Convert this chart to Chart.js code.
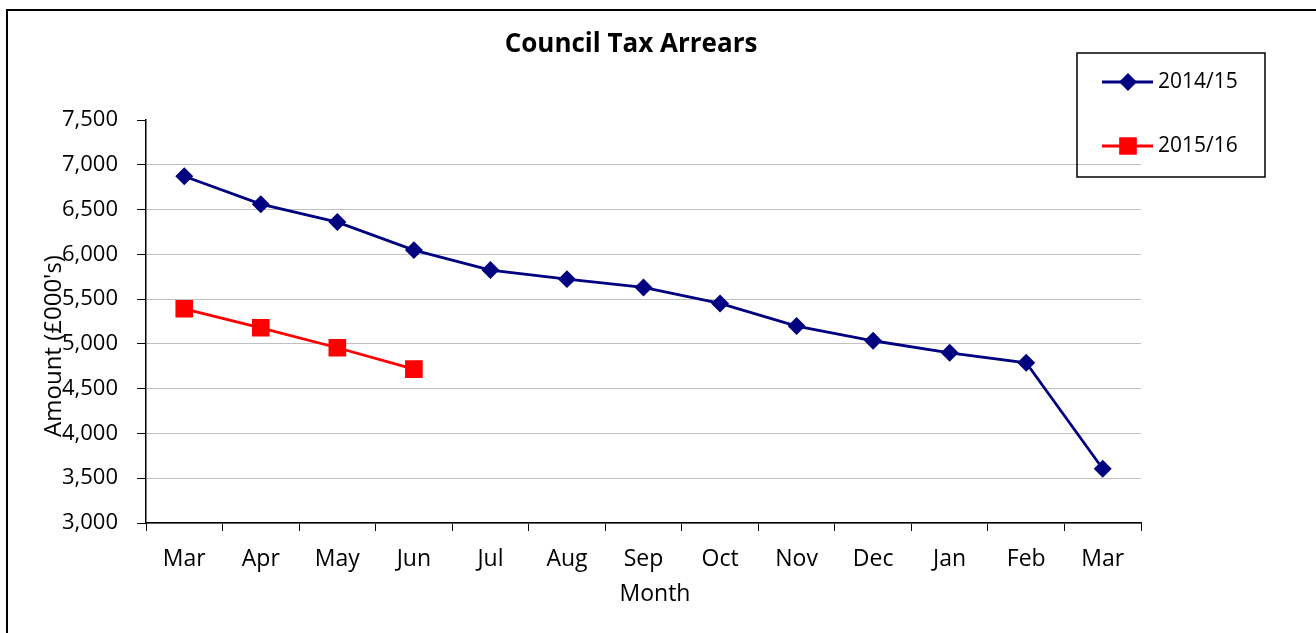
<!DOCTYPE html>
<html lang="en">
<head>
    <meta charset="UTF-8">
    <title>Council Tax Arrears</title>
    <script src="https://cdn.jsdelivr.net/npm/chart.js"></script>
    <style>
        html, body {
            margin: 0;
            padding: 0;
            background: #fff;
        }
        #wrap {
            width: 1316px;
            height: 633px;
        }
    </style>
</head>
<body>
    <div id="wrap">
        <canvas id="arrearsChart" width="1316" height="633"></canvas>
    </div>

    <script>
        // data (amounts in £000's)
        const months = ['Mar', 'Apr', 'May', 'Jun', 'Jul', 'Aug', 'Sep', 'Oct', 'Nov', 'Dec', 'Jan', 'Feb', 'Mar'];
        const arrears2014 = [6872, 6560, 6360, 6047, 5824, 5723, 5630, 5452, 5199, 5035, 4900, 4789, 3606];
        const arrears2015 = [5392, 5180, 4957, 4719];
        const seriesNames = ['2014/15', '2015/16'];
        const yTicks = [3000, 3500, 4000, 4500, 5000, 5500, 6000, 6500, 7000, 7500];

        const FONT = "'Open Sans', sans-serif";

        // title, axis titles, frame and boxed legend, drawn like the Excel original
        const decorations = {
            id: 'decorations',
            afterDraw(chart) {
                const ctx = chart.ctx;
                ctx.save();

                // frame (only top and left edges are visible)
                ctx.strokeStyle = '#000';
                ctx.lineWidth = 2;
                ctx.beginPath();
                ctx.moveTo(7, 633);
                ctx.lineTo(7, 10);
                ctx.lineTo(1316, 10);
                ctx.stroke();

                ctx.fillStyle = '#000';
                ctx.textAlign = 'center';
                ctx.textBaseline = 'middle';
                ctx.font = 'bold 26px ' + FONT;
                ctx.fillText('Council Tax Arrears', 631, 45);

                ctx.font = '23px ' + FONT;
                ctx.fillText('Month', 655, 594);

                ctx.save();
                ctx.translate(54, 346);
                ctx.rotate(-Math.PI / 2);
                ctx.font = '24px ' + FONT;
                ctx.fillText("Amount (£000's)", 0, 0);
                ctx.restore();

                // legend box
                ctx.lineWidth = 1.5;
                ctx.strokeRect(1077, 53, 188, 124);
                const rows = [82, 146];
                chart.data.datasets.forEach((ds, i) => {
                    const y = rows[i];
                    ctx.strokeStyle = ds.borderColor;
                    ctx.lineWidth = ds.borderWidth;
                    ctx.beginPath();
                    ctx.moveTo(1102, y);
                    ctx.lineTo(1153, y);
                    ctx.stroke();
                    ctx.fillStyle = ds.pointBackgroundColor;
                    ctx.strokeStyle = ds.pointBorderColor;
                    Chart.helpers.drawPoint(ctx, {
                        pointStyle: ds.pointStyle,
                        radius: ds.pointRadius,
                        rotation: 0,
                        borderWidth: 1
                    }, 1128, y);
                    ctx.fillStyle = '#000';
                    ctx.textAlign = 'left';
                    ctx.font = '21px ' + FONT;
                    ctx.fillText(ds.label, 1158, y);
                });

                ctx.restore();
            }
        };

        const ctx = document.getElementById('arrearsChart').getContext('2d');
        new Chart(ctx, {
            type: 'line',
            data: {
                labels: months,
                datasets: [{
                    label: seriesNames[0],
                    data: arrears2014,
                    borderColor: '#000080',
                    backgroundColor: '#000080',
                    pointBackgroundColor: '#000080',
                    pointBorderColor: '#000080',
                    borderWidth: 2.8,
                    pointStyle: 'rectRot',
                    pointRadius: 7,
                    pointHoverRadius: 7,
                    tension: 0
                }, {
                    label: seriesNames[1],
                    data: arrears2015,
                    borderColor: '#ff0000',
                    backgroundColor: '#ff0000',
                    pointBackgroundColor: '#ff0000',
                    pointBorderColor: '#ff0000',
                    borderWidth: 2.8,
                    pointStyle: 'rect',
                    pointRadius: 10.5,
                    pointHoverRadius: 10.5,
                    tension: 0
                }]
            },
            options: {
                responsive: false,
                animation: false,
                layout: {
                    padding: { left: 6, right: 175, top: 120, bottom: 0 }
                },
                plugins: {
                    legend: { display: false },
                    title: { display: false },
                    tooltip: { enabled: false }
                },
                scales: {
                    x: {
                        offset: true,
                        afterFit: (axis) => { axis.height = 110; },
                        grid: {
                            offset: true,
                            drawOnChartArea: false,
                            tickLength: 8,
                            color: '#000'
                        },
                        border: { color: '#000', width: 1.5 },
                        ticks: {
                            color: '#000',
                            padding: 15,
                            maxRotation: 0,
                            font: { family: FONT, size: 23 }
                        }
                    },
                    y: {
                        min: yTicks[0],
                        max: yTicks[yTicks.length - 1],
                        afterFit: (axis) => { axis.width = 140; },
                        afterBuildTicks: (axis) => {
                            axis.ticks = yTicks.map(v => ({ value: v }));
                        },
                        grid: {
                            color: (c) => (c.tick && c.tick.value === 7500) ? 'rgba(0,0,0,0)' : '#bfbfbf',
                            tickColor: '#000',
                            tickLength: 9,
                            lineWidth: 1
                        },
                        border: { color: '#000', width: 1.5 },
                        ticks: {
                            color: '#000',
                            padding: 19,
                            font: { family: FONT, size: 22 },
                            callback: (v) => v.toLocaleString('en-US')
                        }
                    }
                }
            },
            plugins: [decorations]
        });
    </script>
</body>
</html>
